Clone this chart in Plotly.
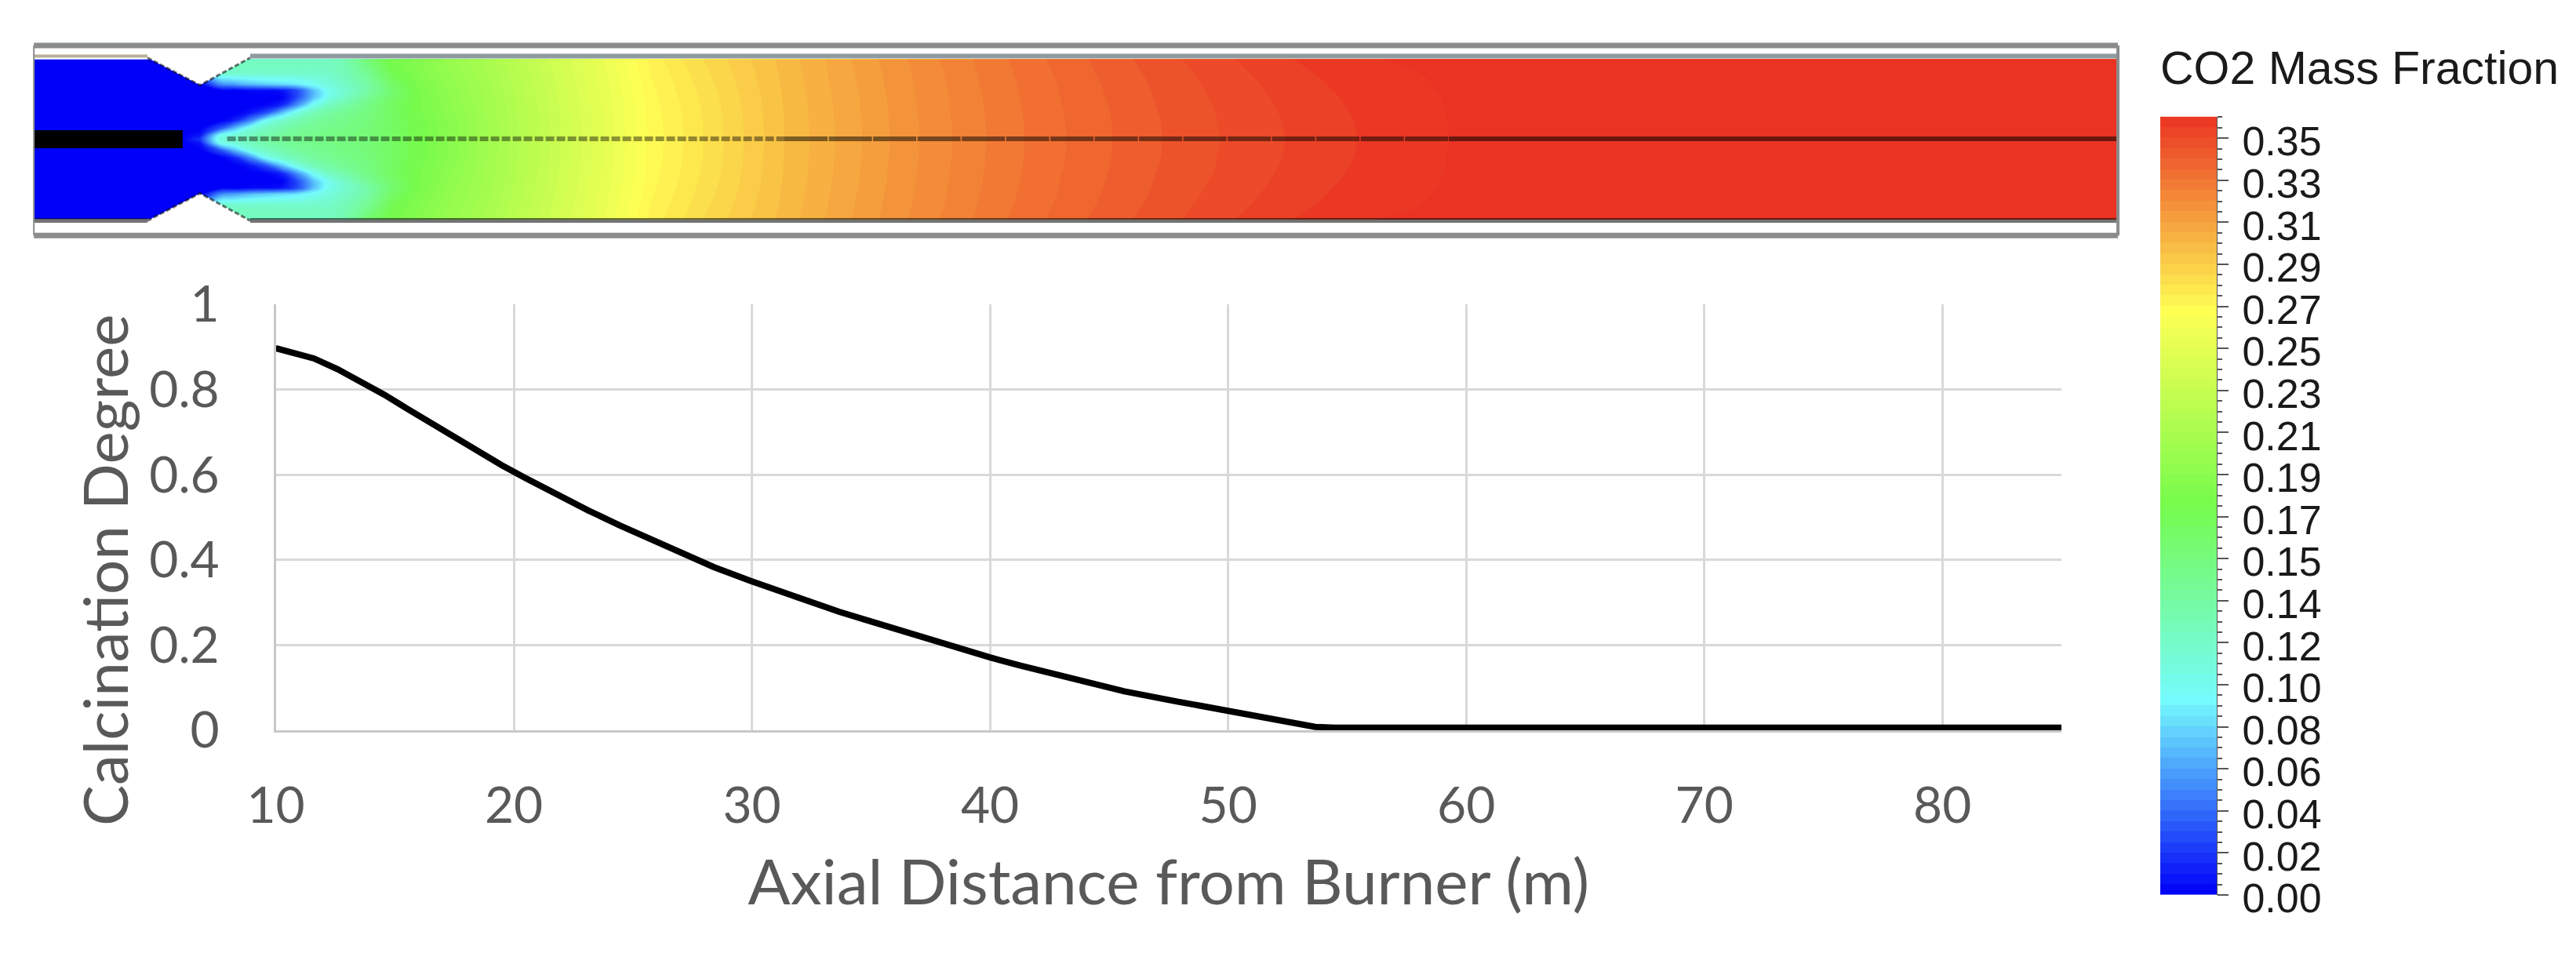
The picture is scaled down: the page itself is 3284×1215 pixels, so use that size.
import numpy as np
import plotly.graph_objects as go

# ---------- calcination curve ----------
axial_distance_m = [10, 10.6, 11.6, 12.59, 13.57, 14.56, 15.55, 16.54, 17.53, 18.52, 19.5, 20.49, 21.48, 22.47,
                    23.13, 24.45, 25.77, 27.08, 28.4, 29.98, 31.26, 32.1, 33.67, 34.9, 37.5, 40, 41.25, 43.45,
                    45.64, 47.85, 50.02, 52.2, 53.66, 54.5, 60, 70, 80, 85]
calcination_degree = [0.897, 0.889, 0.873, 0.848, 0.82, 0.788, 0.754, 0.72, 0.687, 0.654, 0.622, 0.592, 0.562,
                      0.534, 0.516, 0.481, 0.447, 0.414, 0.383, 0.35, 0.324, 0.306, 0.278, 0.257, 0.212, 0.171,
                      0.152, 0.12, 0.0915, 0.0675, 0.046, 0.023, 0.008, 0.006, 0.006, 0.006, 0.006, 0.006]
x_ticks = [10, 20, 30, 40, 50, 60, 70, 80]
y_ticks = [0, 0.2, 0.4, 0.6, 0.8, 1]
y_tick_labels = ["0", "0.2", "0.4", "0.6", "0.8", "1"]

# ---------- CO2 field of the kiln (one half) ----------
field_x_m = [-0.16, 4.68, 6.0, 6.82, 7.64, 8.3, 8.96, 9.62, 10.28, 10.94, 11.6, 12.26, 12.92, 13.9, 14.89,
             15.88, 17.2, 18.85, 20.82, 23.13, 25.77, 28.07, 31.37, 32.42, 33.48, 34.63, 35.78, 37.03, 38.42,
             39.84, 41.45, 43.2, 45.14, 47.22, 49.65, 52.39, 55.42, 59.27, 67.6, 87.38]
field_r_m = [0, 0.16, 0.46, 0.79, 1.12, 1.45, 1.78, 2.04, 2.31, 2.8, 3.36]
co2_by_column = [
    [0, 0, 0, 0, 0, 0, 0, 0, 0, 0, 0],
    [0, 0, 0, 0, 0, 0, 0, 0, 0, 0, 0],
    [0, 0, 0, 0, 0, 0, 0, 0, 0, 0, 0],
    [0.02, 0.01, 0, 0, 0, 0, 0, 0, 0, 0.05, 0.1],
    [0.105, 0.095, 0.03, 0, 0, 0, 0, 0, 0.05, 0.115, 0.118],
    [0.115, 0.11, 0.07, 0.015, 0, 0, 0, 0, 0.06, 0.118, 0.12],
    [0.125, 0.122, 0.105, 0.05, 0.01, 0, 0, 0.005, 0.07, 0.118, 0.12],
    [0.135, 0.132, 0.12, 0.095, 0.03, 0.003, 0, 0.005, 0.075, 0.118, 0.12],
    [0.14, 0.138, 0.13, 0.115, 0.07, 0.015, 0.002, 0.01, 0.08, 0.118, 0.12],
    [0.145, 0.143, 0.138, 0.128, 0.105, 0.055, 0.03, 0.03, 0.085, 0.118, 0.12],
    [0.148, 0.147, 0.143, 0.137, 0.125, 0.095, 0.07, 0.07, 0.095, 0.118, 0.12],
    [0.15, 0.15, 0.147, 0.143, 0.135, 0.12, 0.1, 0.1, 0.107, 0.118, 0.122],
    [0.153, 0.153, 0.151, 0.148, 0.143, 0.132, 0.118, 0.113, 0.118, 0.125, 0.13],
    [0.157, 0.157, 0.156, 0.155, 0.153, 0.15, 0.142, 0.135, 0.135, 0.145, 0.16],
    [0.167, 0.167, 0.167, 0.167, 0.167, 0.167, 0.163, 0.16, 0.165, 0.175, 0.18],
    [0.178, 0.178, 0.178, 0.178, 0.18, 0.18, 0.18, 0.18, 0.182, 0.186, 0.188],
    [0.19, 0.19, 0.19, 0.19, 0.192, 0.193, 0.194, 0.195, 0.196, 0.198, 0.2],
    [0.206, 0.206, 0.2061, 0.2063, 0.2067, 0.2071, 0.2077, 0.2082, 0.2088, 0.2101, 0.212],
    [0.224, 0.224, 0.2241, 0.2243, 0.2246, 0.2249, 0.2254, 0.2259, 0.2264, 0.2275, 0.229],
    [0.245, 0.245, 0.2451, 0.2452, 0.2454, 0.2457, 0.2461, 0.2465, 0.2469, 0.2478, 0.249],
    [0.268, 0.268, 0.2681, 0.2682, 0.2684, 0.2687, 0.2691, 0.2695, 0.2699, 0.2708, 0.272],
    [0.279, 0.279, 0.2791, 0.2792, 0.2794, 0.2797, 0.2801, 0.2805, 0.2809, 0.2818, 0.283],
    [0.2945, 0.2945, 0.2946, 0.2946, 0.2947, 0.2948, 0.2949, 0.2951, 0.2953, 0.2956, 0.2961],
    [0.2985, 0.2985, 0.2985, 0.2986, 0.2987, 0.2988, 0.2989, 0.2991, 0.2993, 0.2996, 0.3001],
    [0.3025, 0.3025, 0.3025, 0.3026, 0.3027, 0.3028, 0.3029, 0.3031, 0.3033, 0.3036, 0.3041],
    [0.3065, 0.3065, 0.3065, 0.3066, 0.3067, 0.3068, 0.3069, 0.3071, 0.3073, 0.3076, 0.3081],
    [0.3105, 0.3105, 0.3105, 0.3106, 0.3107, 0.3108, 0.3109, 0.3111, 0.3113, 0.3116, 0.3121],
    [0.3145, 0.3145, 0.3145, 0.3146, 0.3147, 0.3148, 0.3149, 0.3151, 0.3152, 0.3155, 0.316],
    [0.3185, 0.3185, 0.3185, 0.3186, 0.3187, 0.3188, 0.3189, 0.3191, 0.3192, 0.3195, 0.32],
    [0.3225, 0.3225, 0.3225, 0.3226, 0.3227, 0.3228, 0.3229, 0.3231, 0.3233, 0.3236, 0.3241],
    [0.3265, 0.3265, 0.3265, 0.3266, 0.3267, 0.3268, 0.327, 0.3272, 0.3273, 0.3277, 0.3283],
    [0.3305, 0.3305, 0.3305, 0.3306, 0.3307, 0.3309, 0.3311, 0.3312, 0.3314, 0.3319, 0.3325],
    [0.3345, 0.3345, 0.3345, 0.3346, 0.3347, 0.3349, 0.3351, 0.3353, 0.3355, 0.336, 0.3367],
    [0.3385, 0.3385, 0.3385, 0.3386, 0.3388, 0.339, 0.3392, 0.3394, 0.3396, 0.3402, 0.3409],
    [0.3425, 0.3425, 0.3426, 0.3427, 0.3428, 0.343, 0.3433, 0.3436, 0.3439, 0.3445, 0.3454],
    [0.3465, 0.3465, 0.3466, 0.3467, 0.3469, 0.3472, 0.3475, 0.3478, 0.3481, 0.3489, 0.35],
    [0.3505, 0.3505, 0.3506, 0.3507, 0.3509, 0.3512, 0.3515, 0.3519, 0.3522, 0.353, 0.3542],
    [0.3545, 0.3545, 0.3545, 0.3546, 0.3546, 0.3547, 0.3548, 0.3549, 0.355, 0.3552, 0.3555],
    [0.3556, 0.3556, 0.3556, 0.3556, 0.3557, 0.3557, 0.3558, 0.3558, 0.3559, 0.356, 0.3562],
    [0.3565, 0.3565, 0.3565, 0.3565, 0.3565, 0.3565, 0.3565, 0.3565, 0.3565, 0.3565, 0.3565],
]

# kiln geometry (m)
neck_x = [4.61, 6.82, 8.93]
neck_wall_r = 3.42
neck_throat_r = 2.27
burner_x = [-0.16, 6.09]
burner_r = 0.38
kiln_x = [-0.16, 87.38]
centre_line_x_a = [7.96, 31.37]
centre_line_x_b = [31.37, 59.27]
centre_line_x_c = [59.27, 87.38]
frame_top_r = 3.94
frame_bottom_r = -4.04
wall_top_r = 3.49
wall_bottom_r = -3.41

# colour scale
cbar_max = 0.3573
cbar_tick_step = 0.0193
cbar_labels = ["0.00", "0.02", "0.04", "0.06", "0.08", "0.10", "0.12", "0.14", "0.15", "0.17",
               "0.19", "0.21", "0.23", "0.25", "0.27", "0.29", "0.31", "0.33", "0.35"]
rainbow = [[0, "#0000f8"], [0.25, "#75fbfd"], [0.5, "#75fb4c"], [0.75, "#ffff54"], [1, "#ea3323"]]

W, H = 3284, 1215
def px(x): return x / W
def py(y): return 1 - y / H

GREY = "#595959"
GRID = "#d9d9d9"
FONT = "Lato"

fig = go.Figure()

# --- field ---
upper = [list(r) for r in zip(*co2_by_column)]       # rows by radius, centre to wall
radius = [-r for r in field_r_m[:0:-1]] + field_r_m
z = upper[:0:-1] + upper
fig.add_trace(go.Contour(x=field_x_m, y=radius, z=z, xaxis="x2", yaxis="y2",
                         colorscale=rainbow, zmin=0, zmax=cbar_max, showscale=False,
                         autocontour=False,
                         contours=dict(start=0.0025, end=cbar_max, size=0.004, coloring="fill", showlines=False),
                         line=dict(width=0, smoothing=1), hoverinfo="skip"))

def strip_line(x, y, color, width, dash="solid", **kw):
    fig.add_trace(go.Scatter(x=x, y=y, xaxis="x2", yaxis="y2", mode="lines", showlegend=False,
                             hoverinfo="skip", cliponaxis=False,
                             line=dict(color=color, width=width, dash=dash), **kw))

# notches of the kiln neck
for s in (1, -1):
    nx = [neck_x[0], neck_x[1], neck_x[2], neck_x[2], neck_x[0], neck_x[0]]
    ny = [s * neck_wall_r, s * neck_throat_r, s * neck_wall_r, s * 3.7, s * 3.7, s * neck_wall_r]
    fig.add_trace(go.Scatter(x=nx, y=ny, xaxis="x2", yaxis="y2", mode="none", fill="toself",
                             fillcolor="white", showlegend=False, hoverinfo="skip"))
    strip_line(neck_x, [s * neck_wall_r, s * neck_throat_r, s * neck_wall_r],
               "rgba(0,0,0,0.55)", 3, "6px,3px")

# burner pipe
fig.add_trace(go.Scatter(x=[burner_x[0], burner_x[1], burner_x[1], burner_x[0], burner_x[0]],
                         y=[burner_r, burner_r, -burner_r, -burner_r, burner_r],
                         xaxis="x2", yaxis="y2", mode="none", fill="toself", fillcolor="black",
                         showlegend=False, hoverinfo="skip"))
# centre line
strip_line(centre_line_x_a, [0.02, 0.02], "rgba(0,0,0,0.42)", 6, "11px,3px")
strip_line(centre_line_x_b, [0.02, 0.02], "rgba(0,0,0,0.5)", 6, "55px,1.5px")
strip_line(centre_line_x_c, [0.02, 0.02], "rgba(0,0,0,0.55)", 6)
# walls
strip_line([neck_x[2], kiln_x[1]], [wall_top_r, wall_top_r], "#8e9aa0", 6)
strip_line([kiln_x[0], neck_x[0]], [wall_top_r, wall_top_r], "#b9b09a", 4)
strip_line([neck_x[2], kiln_x[1]], [wall_bottom_r, wall_bottom_r], "rgba(0,0,0,0.55)", 6)
strip_line([kiln_x[0], neck_x[0]], [wall_bottom_r, wall_bottom_r], "rgba(0,0,0,0.55)", 6)
# outer frame
strip_line(kiln_x, [frame_top_r, frame_top_r], "#8c8c8c", 7)
strip_line(kiln_x, [frame_bottom_r, frame_bottom_r], "#8c8c8c", 7)
strip_line([kiln_x[0], kiln_x[0]], [frame_bottom_r, frame_top_r], "#8c8c8c", 2)
strip_line([kiln_x[1], kiln_x[1]], [frame_bottom_r, frame_top_r], "#8c8c8c", 4)

# --- curve ---
fig.add_trace(go.Scatter(x=axial_distance_m, y=calcination_degree, mode="lines", showlegend=False,
                         line=dict(color="black", width=8)))

# --- colour bar as its own axis ---
band = cbar_max / 74
band_centres = [band * (i + 0.5) for i in range(74)]
fig.add_trace(go.Heatmap(x=[0, 1], y=band_centres, z=[[v, v] for v in band_centres],
                         xaxis="x3", yaxis="y3", colorscale=rainbow, zmin=0, zmax=cbar_max,
                         showscale=False, hoverinfo="skip"))

cbar_ticks = [cbar_tick_step * i for i in range(len(cbar_labels))]

fig.update_layout(
    width=W, height=H, autosize=False,
    margin=dict(l=0, r=0, t=0, b=0),
    paper_bgcolor="white", plot_bgcolor="white", showlegend=False,
    font=dict(family=FONT, color=GREY),
    xaxis=dict(domain=[px(351.5), px(2628)], range=[10, 85], tickvals=x_ticks, showgrid=True,
               gridcolor=GRID, gridwidth=3, showline=True, linecolor="#c8c8c8", linewidth=3,
               zeroline=False, ticks="", ticklabelstandoff=38, automargin=False,
               tickfont=dict(family=FONT, size=64, color=GREY),
               title=dict(text="Axial Distance from Burner (m)", standoff=36,
                          font=dict(family=FONT, size=80, color=GREY))),
    yaxis=dict(domain=[py(931), py(388)], range=[0, 1], tickvals=y_ticks, ticktext=y_tick_labels,
               showgrid=True, gridcolor=GRID, gridwidth=3, showline=True, linecolor="#c8c8c8",
               linewidth=3, zeroline=False, ticks="", ticklabelstandoff=56, automargin=False,
               tickfont=dict(family=FONT, size=64, color=GREY)),
    xaxis2=dict(domain=[px(40), px(2704)], range=[-0.264, 87.51], visible=False, anchor="y2", automargin=False),
    yaxis2=dict(domain=[py(305), py(50)], range=[-4.2, 4.2], visible=False, anchor="x2", automargin=False),
    xaxis3=dict(domain=[px(2754), px(2826)], range=[0, 1], visible=False, anchor="y3", automargin=False),
    yaxis3=dict(domain=[py(1141), py(148.6)], range=[0, cbar_max], anchor="x3", side="right",
                tickvals=cbar_ticks, ticktext=cbar_labels, ticks="outside", ticklen=14, tickwidth=2,
                tickcolor="#555555", showgrid=False, zeroline=False, showline=True, linecolor="#555555",
                linewidth=1, ticklabelstandoff=7, ticklabelshift=4, automargin=False,
                tickfont=dict(family="Liberation Sans", size=52, color="#1a1a1a"),
                minor=dict(ticks="outside", ticklen=6, tickwidth=2, tickcolor="#555555",
                           tick0=0, dtick=cbar_tick_step / 4)),
    annotations=[
        dict(text="CO2 Mass Fraction", xref="paper", yref="paper", x=px(2752), y=py(87), xanchor="left",
             yanchor="middle", showarrow=False, font=dict(family="Liberation Sans", size=59, color="#1a1a1a")),
        dict(text="Calcination Degree", xref="paper", yref="paper", x=px(133), y=py(727), xanchor="center",
             yanchor="middle", textangle=-90, showarrow=False, font=dict(family=FONT, size=78, color=GREY)),
    ],
)

fig.write_html("out.html", post_script="document.body.style.margin='0';",
               config={"displayModeBar": False})
